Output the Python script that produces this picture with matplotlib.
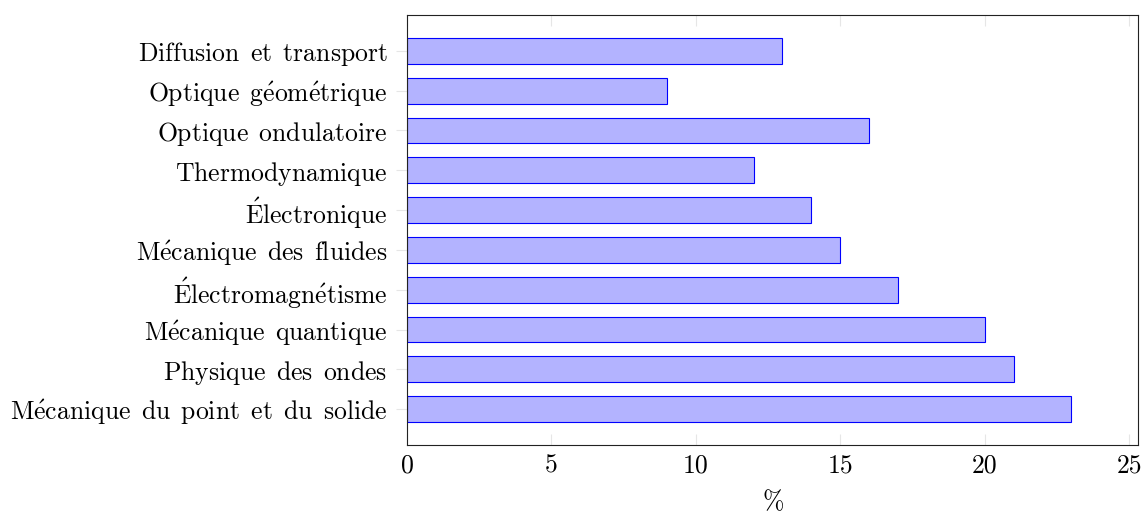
import matplotlib
matplotlib.use("Agg")
import matplotlib.pyplot as plt

categories = [
    "Mécanique du point et du solide",
    "Physique des ondes",
    "Mécanique quantique",
    "Électromagnétisme",
    "Mécanique des fluides",
    "Électronique",
    "Thermodynamique",
    "Optique ondulatoire",
    "Optique géométrique",
    "Diffusion et transport",
]
values = [23, 21, 20, 17, 15, 14, 12, 16, 9, 13]
xticks = [0, 5, 10, 15, 20, 25]

plt.rcParams['font.family'] = ['cmr10', 'DejaVu Serif']
plt.rcParams['mathtext.fontset'] = 'cm'
plt.rcParams['axes.formatter.use_mathtext'] = True


def tex(s):
    s = s.replace(" ", r"\ \,").replace("é", r"\acute{e}").replace("É", r"\acute{E}")
    return r"$\mathrm{" + s + "}$"


FS = 18.5
fig = plt.figure(figsize=(11.44, 5.14), dpi=100)
ax = fig.add_axes([407/1144, 1 - 445/514, (1138-407)/1144, (445-15)/514])

ypos = list(range(len(categories)))
ax.barh(ypos, values, height=0.65, color=(0.7, 0.7, 1.0), edgecolor=(0, 0, 1), linewidth=0.8)

ax.set_xlim(0, 25.31)
ax.set_ylim(-0.9, 9.9)
ax.set_yticks(ypos)
ax.set_yticklabels([tex(c) for c in categories], fontsize=FS)
ax.set_xticks(xticks)
ax.set_xticklabels([str(t) for t in xticks], fontsize=FS)
ax.set_xlabel(r"$\%$", fontsize=FS, labelpad=8)

ax.tick_params(axis='x', direction='in', top=True, bottom=True, length=8, width=0.8, color='#e6e6e6', pad=6)
ax.tick_params(axis='y', direction='out', left=True, right=False, length=8, width=0.8, color='#e6e6e6', pad=6)
for s in ax.spines.values():
    s.set_linewidth(0.8)
    s.set_color('#222222')

fig.savefig("out.png", dpi=100)
